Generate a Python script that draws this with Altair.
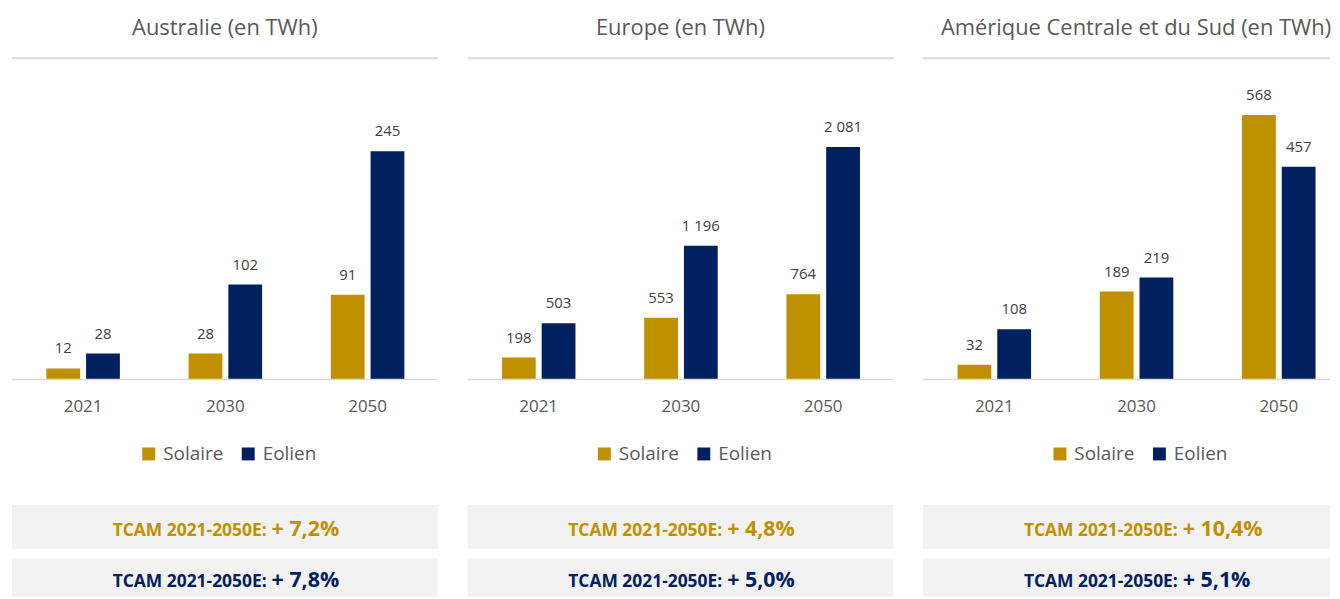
import altair as alt
import pandas as pd

years = ["2021", "2030", "2050"]
series = ["Solaire", "Eolien"]
titles = ["Australie (en TWh)", "Europe (en TWh)", "Amérique Centrale et du Sud (en TWh)"]
solaire = [[12, 28, 91], [198, 553, 764], [32, 189, 568]]
eolien = [[28, 102, 245], [503, 1196, 2081], [108, 219, 457]]
y_max = [300, 2500, 600]
tcam_label = "TCAM 2021-2050E:"
tcam_solaire = ["+ 7,2%", "+ 4,8%", "+ 10,4%"]
tcam_eolien = ["+ 7,8%", "+ 5,0%", "+ 5,1%"]
panel_widths = [428, 428, 409]

GOLD = "#BF9000"
NAVY = "#002060"
GREY_TXT = "#595959"
LABEL_TXT = "#404040"
LINE = "#D9D9D9"
BOX = "#F2F2F2"
FONT = "Open Sans"


def one(text=""):
    return alt.Chart(pd.DataFrame({"t": [text]}))


def panel(i):
    width = panel_widths[i]
    rows = []
    for j, yr in enumerate(years):
        rows.append({"year": yr, "series": "Solaire", "value": solaire[i][j]})
        rows.append({"year": yr, "series": "Eolien", "value": eolien[i][j]})
    df = pd.DataFrame(rows)
    df["label"] = df["value"].map(lambda v: f"{v:,}".replace(",", " "))

    xs = alt.Scale(domain=years, range=[0, 429], paddingInner=0.483, paddingOuter=0.2415)
    ys = alt.Scale(domain=[0, y_max[i]], range=[372, 91], nice=False)
    xo = alt.Scale(domain=series, paddingInner=0.15, paddingOuter=0)

    title = one(titles[i]).mark_text(
        font=FONT, fontSize=22, color=GREY_TXT, align="center", baseline="alphabetic"
    ).encode(x=alt.value(214), y=alt.value(26), text="t:N")
    sep = one().mark_rule(color=LINE, strokeWidth=2).encode(
        x=alt.value(0), x2=alt.value(width), y=alt.value(49)
    )

    base = alt.Chart(df)
    bars = base.mark_bar().encode(
        x=alt.X("year:N", scale=xs, axis=None),
        xOffset=alt.XOffset("series:N", sort=series, scale=xo),
        y=alt.Y("value:Q", scale=ys, axis=None),
        color=alt.Color(
            "series:N",
            sort=series,
            scale=alt.Scale(domain=series, range=[GOLD, NAVY]),
            legend=alt.Legend(
                title=None,
                orient="none",
                legendX=128,
                legendY=437,
                direction="horizontal",
                symbolType="square",
                symbolSize=169,
                symbolStrokeWidth=0,
                labelFont=FONT,
                labelFontSize=19,
                labelColor=GREY_TXT,
                labelOffset=5,
                columnPadding=15,
            ),
        ),
    )
    labels = base.mark_text(
        font=FONT, fontSize=15, color=LABEL_TXT, baseline="alphabetic", dy=-15
    ).encode(
        x=alt.X("year:N", scale=xs, axis=None),
        xOffset=alt.XOffset("series:N", sort=series, scale=xo),
        y=alt.Y("value:Q", scale=ys, axis=None),
        text="label:N",
    )
    baseline = one().mark_rule(color=LINE, strokeWidth=1.5).encode(
        x=alt.value(0), x2=alt.value(width), y=alt.datum(0)
    )
    year_txt = alt.Chart(pd.DataFrame({"year": years})).mark_text(
        font=FONT, fontSize=17, color=GREY_TXT, baseline="alphabetic"
    ).encode(x=alt.X("year:N", scale=xs, axis=None), y=alt.value(405), text="year:N")

    box1 = one().mark_rect(color=BOX).encode(
        x=alt.value(0), x2=alt.value(width), y=alt.value(498), y2=alt.value(542)
    )
    box2 = one().mark_rect(color=BOX).encode(
        x=alt.value(0), x2=alt.value(width), y=alt.value(552), y2=alt.value(590)
    )

    def tcam(txt, color, y):
        lab = one(tcam_label).mark_text(
            font=FONT, fontSize=17.5, fontWeight="bold", color=color,
            align="right", baseline="alphabetic"
        ).encode(x=alt.value(256), y=alt.value(y), text="t:N")
        val = one(txt).mark_text(
            font=FONT, fontSize=21.5, fontWeight="bold", color=color,
            align="left", baseline="alphabetic"
        ).encode(x=alt.value(261), y=alt.value(y), text="t:N")
        return [lab, val]

    layers = [title, sep, box1, box2, bars, labels, baseline, year_txt]
    layers += tcam(tcam_solaire[i], GOLD, 529)
    layers += tcam(tcam_eolien[i], NAVY, 581)
    return alt.layer(*layers).properties(width=width, height=590)


chart = (
    alt.hconcat(panel(0), panel(1), panel(2), spacing=28)
    .resolve_scale(x="independent", y="independent", color="independent")
    .resolve_legend(color="independent")
    .properties(padding={"left": 3, "top": 0, "right": 0, "bottom": 0})
    .configure_view(stroke=None)
)

chart.save("out.html", embed_options={"renderer": "svg", "actions": False})
